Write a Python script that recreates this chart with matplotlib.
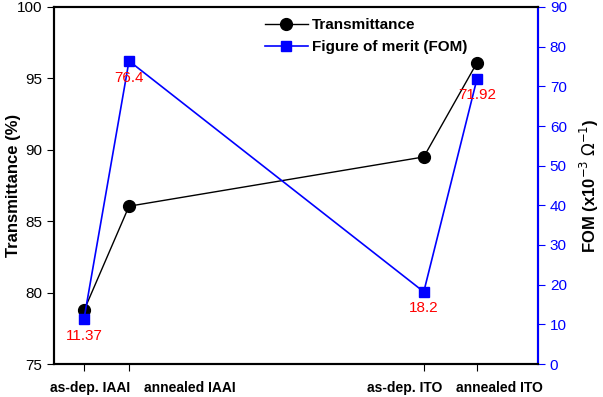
import matplotlib.pyplot as plt

plt.rcParams['font.family'] = ['Liberation Sans', 'DejaVu Sans']

# samples and their (uneven) positions along the x axis
samples = ["as-dep. IAAI", "annealed IAAI", "as-dep. ITO", "annealed ITO"]
x_pos = [0.62, 1.55, 7.64, 8.74]
# where the sample names sit under the axis (axes fraction)
label_x = [0.075, 0.28, 0.725, 0.92]

transmittance = [78.75, 86.05, 89.5, 96.1]
fom = [11.37, 76.4, 18.2, 71.92]
fom_labels = ["11.37", "76.4", "18.2", "71.92"]

fig = plt.figure(figsize=(6.03, 3.97), dpi=100)
ax = fig.add_axes([54 / 603, 1 - 364 / 397, (538 - 54) / 603, (364 - 7) / 397])
ax2 = ax.twinx()

l1, = ax.plot(x_pos, transmittance, color="black", lw=1.0, marker="o",
              markersize=8.5, label="Transmittance")
l2, = ax2.plot(x_pos, fom, color="blue", lw=1.2, marker="s",
               markersize=7.5, label="Figure of merit (FOM)")

for x, v, t in zip(x_pos, fom, fom_labels):
    ax2.annotate(t, (x, v), xytext=(0, -12), textcoords="offset points",
                 ha="center", va="center", color="red", fontsize=11)

ax.set_xlim(0, 10)
ax.set_ylim(75, 100)
ax.set_yticks([75, 80, 85, 90, 95, 100])
ax2.set_ylim(0, 90)
ax2.set_yticks(range(0, 91, 10))

ax.set_xticks(x_pos)
ax.set_xticklabels([])
for lx, s in zip(label_x, samples):
    ax.text(lx, -0.066, s, transform=ax.transAxes, ha="center", va="center",
            fontsize=10, fontweight="bold")

ax.tick_params(axis="x", direction="out", length=5)
ax.tick_params(axis="y", direction="out", length=5, labelsize=11)
ax2.tick_params(axis="y", direction="out", length=5, labelsize=11,
                colors="blue")

for s in ax.spines.values():
    s.set_linewidth(1.5)
for s in ax2.spines.values():
    s.set_linewidth(1.5)
ax2.spines["right"].set_color("blue")

ax.set_ylabel("Transmittance (%)", fontsize=12, fontweight="bold")
ax.yaxis.set_label_coords(-0.068, 0.5)
ax2.set_ylabel(r"FOM (x10$^{-3}$ $\Omega^{-1}$)", fontsize=12,
               fontweight="bold", rotation=90)
ax2.yaxis.set_label_coords(1.082, 0.5)

ax2.legend([l1, l2], ["Transmittance", "Figure of merit (FOM)"],
           loc="upper center", bbox_to_anchor=(0.645, 1.0), frameon=False,
           handlelength=2.8, handletextpad=0.3, borderaxespad=0.35,
           labelspacing=0.5, prop={"weight": "bold", "size": 11})

fig.savefig("out.png", dpi=100)
